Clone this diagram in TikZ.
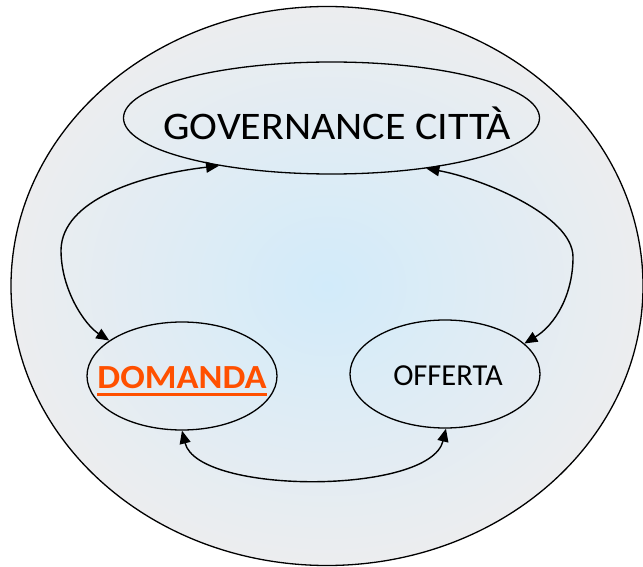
\documentclass[tikz,border=0pt]{standalone}
\usepackage{fontspec}
\setmainfont{Carlito}
\usepackage{graphicx}
\usetikzlibrary{arrows.meta,shapes.geometric}
\definecolor{innerblue}{HTML}{D2EBFA}
\definecolor{outergrey}{HTML}{ECEDEF}
\definecolor{orng}{RGB}{255,80,0}
\newcommand\myulbox[1]{\setbox0\hbox{#1}\rlap{\rule[-7.4pt]{\wd0}{3.2pt}}\box0}
\begin{document}
\begin{tikzpicture}[x=1pt,y=-1pt,
  bubble/.style={draw=black, line width=1.3pt, ellipse, inner sep=0pt, text height=0pt, text depth=0pt},
  link/.style={draw=black, line width=1.4pt, {Triangle[length=13pt,width=11pt]}-{Triangle[length=13pt,width=11pt]}}]
\useasboundingbox (0,0) rectangle (643,567);
\node[bubble, inner color=innerblue, outer color=outergrey, minimum width=632pt, minimum height=559pt] (outer) at (327,286) {};
\node[bubble, minimum width=416pt, minimum height=112pt] (gov) at (331.5,118)
  {\makebox[0pt]{\hspace*{11pt}\raisebox{-21pt}{\scalebox{1}[0.93]{\fontsize{42}{50}\selectfont GOVERNANCE CITTÀ}}}};
\node[bubble, minimum width=190pt, minimum height=108pt] (dom) at (182,376)
  {\makebox[0pt]{\raisebox{-12.3pt}{\color{orng}\bfseries\fontsize{36.3}{44}\selectfont\myulbox{\scalebox{1}[0.93]{DOMANDA}}}}};
\node[bubble, minimum width=190pt, minimum height=108pt] (off) at (445,374)
  {\makebox[0pt]{\hspace*{6pt}\raisebox{-11pt}{\fontsize{30.5}{38}\selectfont OFFERTA}}};
\coordinate (lft) at (61,250);
\coordinate (rgt) at (573,257);
\draw[link] (gov.203) .. controls (140,175) and (62,200) .. (lft) .. controls (61,290) and (85,325) .. (dom.154);
\draw[link] (gov.332) .. controls (480,178) and (573,215) .. (rgt) .. controls (573,295) and (555,325) .. (off.21);
\draw[link] (dom.270) .. controls (198,495) and (430,495) .. (off.271);
\end{tikzpicture}
\end{document}
